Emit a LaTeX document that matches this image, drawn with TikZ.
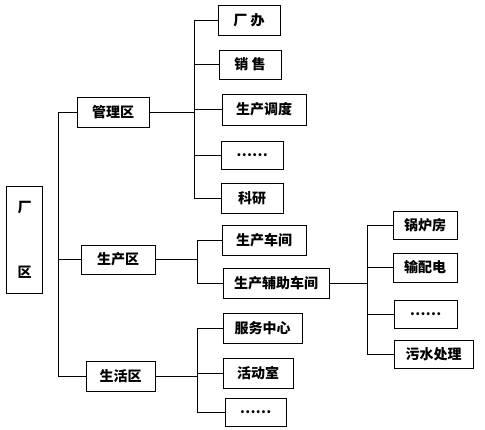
\documentclass[tikz,border=0pt]{standalone}
\usepackage{fontspec}
\newfontfamily\cjk{Noto Sans CJK SC}
\usetikzlibrary{positioning}

\begin{document}
\begin{tikzpicture}[
        x=1pt, y=-1pt,
        every node/.style={align=center, font=\cjk\bfseries\fontsize{14}{17}\selectfont},
        box/.style={draw, line width=0.9pt, inner sep=0pt, minimum height=30pt},
        link/.style={line width=0.8pt}
    ]
        \useasboundingbox (0,0) rectangle (485,430);
        % root and the three areas
        \node[box, minimum width=36pt, minimum height=107pt,
              font=\cjk\bfseries\fontsize{14}{65}\selectfont] (factory) at (24.5,239.5) {厂\\区};
        \node[box, minimum width=72pt] (mgmt) at (113,112) {管理区};
        \node[box, minimum width=74pt, minimum height=29pt] (prod) at (118,259.5) {生产区};
        \node[box, minimum width=69pt] (life) at (120.5,376) {生活区};
        % management
        \node[box, minimum width=62pt] (office) at (249,20) {厂 办};
        \node[box, minimum width=62pt, minimum height=29pt] (sales) at (250,64.5) {销 售};
        \node[box, minimum width=84pt, minimum height=31pt] (dispatch) at (264,109.5) {生产调度};
        \node[box, minimum width=62pt, minimum height=28pt] (mdots) at (252,155) {……};
        \node[box, minimum width=62pt] (research) at (252,198) {科研};
        % production
        \node[box, minimum width=84pt] (workshop) at (264,240) {生产车间};
        \node[box, minimum width=106pt] (aux) at (276,283) {生产辅助车间};
        \node[box, minimum width=64pt, minimum height=28pt] (boiler) at (425,225) {锅炉房};
        \node[box, minimum width=64pt, minimum height=29pt] (power) at (425,267.5) {输配电};
        \node[box, minimum width=63pt, minimum height=28pt] (pdots) at (425.5,314) {……};
        \node[box, minimum width=79pt, minimum height=28pt] (sewage) at (433.5,354) {污水处理};
        % living
        \node[box, minimum width=79pt] (service) at (262.5,328) {服务中心};
        \node[box, minimum width=70pt] (activity) at (258,373) {活动室};
        \node[box, minimum width=61pt, minimum height=28pt] (ldots) at (255.5,412) {……};

        % bus lines
        \coordinate (trunk) at (58,0);
        \coordinate (mbus) at (194,0);
        \coordinate (pbus) at (197,0);
        \coordinate (abus) at (367,0);
        \coordinate (lbus) at (197,0);

        \draw[link] (mgmt.west) -| (trunk |- life.west) -- (life.west);
        \draw[link] (prod.west) -- (trunk |- prod.west);

        \draw[link] (mgmt.east) -- (mbus |- mgmt.east);
        \draw[link] (office.west) -| (mbus |- research.west) -- (research.west);
        \foreach \n in {sales, dispatch, mdots}
            \draw[link] (\n.west) -- (mbus |- \n.west);

        \draw[link] (prod.east) -- (pbus |- prod.east);
        \draw[link] (workshop.west) -| (pbus |- aux.west) -- (aux.west);

        \draw[link] (aux.east) -- (abus |- aux.east);
        \draw[link] (boiler.west) -| (abus |- sewage.west) -- (sewage.west);
        \foreach \n in {power, pdots}
            \draw[link] (\n.west) -- (abus |- \n.west);

        \draw[link] (life.east) -- (lbus |- life.east);
        \draw[link] (service.west) -| (lbus |- ldots.west) -- (ldots.west);
        \draw[link] (activity.west) -- (lbus |- activity.west);
    \end{tikzpicture}
\end{document}
